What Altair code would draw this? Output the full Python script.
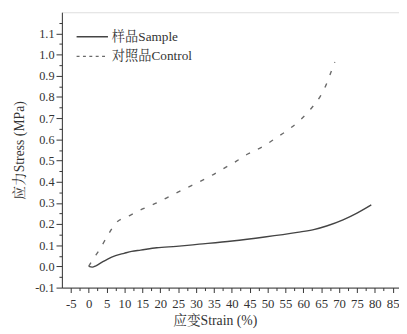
import altair as alt
import pandas as pd

# Sample (solid) curve: strain (%) vs stress (MPa)
sample_strain = [0, 1.0, 2.0, 3.5, 5.3, 7.5, 9.9, 12.0, 14.5, 19.0, 24.5, 30.9, 40.1, 49.2, 58.3, 62.9, 66.5, 71.1, 75.0, 79.0]
sample_stress = [0.0, -0.003, 0.003, 0.018, 0.035, 0.051, 0.062, 0.071, 0.077, 0.088, 0.095, 0.105, 0.120, 0.139, 0.161, 0.174, 0.191, 0.220, 0.252, 0.291]

# Control (dashed) curve
control_strain = [0, 0.8, 3.1, 5.3, 7.6, 11.3, 14.9, 19.0, 22.7, 26.8, 30.5, 34.1, 37.8, 41.4, 44.6, 49.2, 52.4, 56.0, 59.2, 62.0, 64.7, 66.5, 67.9, 68.8]
control_stress = [0.0, 0.023, 0.081, 0.146, 0.205, 0.239, 0.270, 0.300, 0.331, 0.366, 0.396, 0.427, 0.463, 0.498, 0.532, 0.571, 0.607, 0.648, 0.692, 0.742, 0.802, 0.862, 0.925, 0.965]

series_names = ["样品Sample", "对照品Control"]
x_ticks = [v * 2.5 for v in range(-2, 35)]
y_ticks = [round(-0.1 + 0.05 * i, 2) for i in range(26)]

rows = []
for i, (s, v) in enumerate(zip(sample_strain, sample_stress)):
    rows.append({"series": series_names[0], "strain": s, "stress": v, "order": i})
for i, (s, v) in enumerate(zip(control_strain, control_stress)):
    rows.append({"series": series_names[1], "strain": s, "stress": v, "order": i})
df = pd.DataFrame(rows)

FONT = "Liberation Serif, Noto Serif CJK SC, Noto Sans CJK SC, serif"
TXT = "#333333"
COLORS = ["#444444", "#6a6a6a"]

x_axis = alt.Axis(
    values=x_ticks,
    labelExpr="abs(round(datum.value*2)) % 10 == 0 ? (datum.value < 0 ? '-' + format(abs(datum.value), 'd') : format(datum.value, 'd')) : ''",
    tickSize={"condition": {"test": "abs(round(datum.value*2)) % 10 == 0", "value": 5}, "value": 3},
    grid=False,
    labelFont=FONT, labelFontSize=13, labelColor=TXT, labelPadding=5,
    labelFlush=False, labelOverlap=False,
    titleFont=FONT, titleFontSize=14, titleColor=TXT, titleFontWeight="normal",
    titleX=156, titlePadding=4,
    domainColor=TXT, tickColor=TXT, tickWidth=1, domainWidth=1,
)
y_axis = alt.Axis(
    values=y_ticks,
    labelExpr="abs(round(datum.value*20)) % 2 == 0 ? (datum.value < -0.001 ? '-' + format(abs(datum.value), '.1f') : format(abs(datum.value), '.1f')) : ''",
    tickSize={"condition": {"test": "abs(round(datum.value*20)) % 2 == 0", "value": 6}, "value": 3},
    grid=False,
    labelFont=FONT, labelFontSize=12.5, labelColor=TXT, labelPadding=2,
    labelFlush=False, labelOverlap=False,
    titleFont=FONT, titleFontSize=14, titleColor=TXT, titleFontWeight="normal",
    titlePadding=8,
    domainColor=TXT, tickColor=TXT, tickWidth=1, domainWidth=1,
)

x_enc = alt.X("strain:Q", title="应变Strain (%)", scale=alt.Scale(domain=[-7.5, 86.75], nice=False, zero=False), axis=x_axis)
y_enc = alt.Y("stress:Q", title="应力Stress (MPa)", scale=alt.Scale(domain=[-0.1, 1.2], nice=False, zero=False), axis=y_axis)
color_scale = alt.Scale(domain=series_names, range=COLORS)

base = alt.Chart(df)

# legend-driving layer (invisible lines; legend symbols shown at full opacity)
legend_layer = base.mark_line(opacity=0, strokeWidth=1.3).encode(
    x=x_enc, y=y_enc,
    color=alt.Color("series:N", scale=color_scale,
                    legend=alt.Legend(title=None, orient="none", legendX=22, legendY=16,
                                      symbolType="M-2,0H2", symbolSize=256, symbolStrokeWidth=1.3,
                                      symbolOpacity=1,
                                      labelFont=FONT, labelFontSize=13.5, labelColor=TXT,
                                      labelOffset=11, rowPadding=4, padding=0)),
    strokeDash=alt.StrokeDash("series:N", scale=alt.Scale(domain=series_names, range=[[1, 0], [3, 3.5]])),
    detail="series:N",
    order="order:Q",
)

sample_line = base.mark_line(interpolate="monotone", strokeWidth=1.4).encode(
    x=x_enc, y=y_enc,
    color=alt.Color("series:N", scale=color_scale, legend=None),
    order="order:Q",
).transform_filter(alt.datum.series == series_names[0])

control_line = base.mark_line(interpolate="monotone", strokeWidth=1.4, strokeDash=[4.5, 9]).encode(
    x=x_enc, y=y_enc,
    color=alt.Color("series:N", scale=color_scale, legend=None),
    order="order:Q",
).transform_filter(alt.datum.series == series_names[1])

chart = alt.layer(legend_layer, sample_line, control_line).properties(
    width=344, height=281,
    autosize=alt.AutoSizeParams(type="none"),
    padding={"left": 55, "top": 1, "right": 0, "bottom": 44},
).configure_view(stroke=None).configure(background="white")

chart.save("out.html", embed_options={"renderer": "svg", "actions": False})
